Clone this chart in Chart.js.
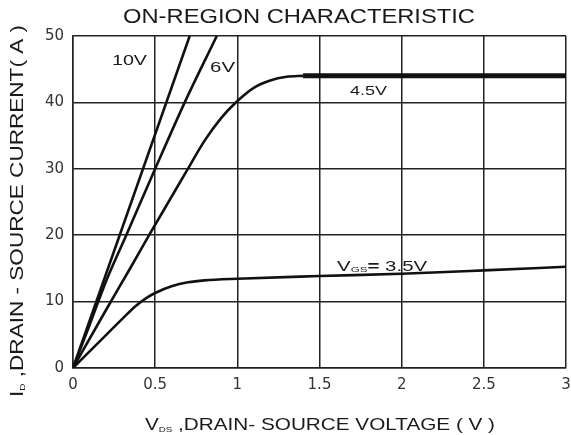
<!DOCTYPE html>
<html>
<head>
<meta charset="utf-8">
<script src="https://cdn.jsdelivr.net/npm/chart.js@4/dist/chart.umd.min.js"></script>
<style>
html,body{margin:0;padding:0;background:#fff;}
#wrap{width:571px;height:435px;position:relative;}
</style>
</head>
<body>
<div id="wrap"><canvas id="c" width="571" height="435"></canvas></div>
<script>
// ---- data ----
const xTickLabels = ['0','0.5','1','1.5','2','2.5','3'];
const yTickLabels = ['0','10','20','30','40','50'];

const vds10 = [0, 0.71];
const id10  = [0, 50];

const vds6 = [0, 0.1, 0.2, 0.324, 0.5, 0.68, 0.875];
const id6  = [0, 6.4, 13, 20, 30, 40, 50];

const vds45 = [0, 0.2, 0.35, 0.47, 0.6, 0.69, 0.8, 0.9, 1.0, 1.1, 1.2, 1.3, 1.4];
const id45  = [0, 8.7, 15.1, 20.3, 25.8, 29.6, 34.2, 37.6, 40.2, 42.2, 43.3, 43.85, 44];

const vds45flat = [1.4, 3.0];
const id45flat  = [44, 44];

const vds35 = [0, 0.17, 0.3, 0.38, 0.45, 0.5, 0.6, 0.7, 0.8, 1.0, 1.5, 2.0, 2.5, 3.0];
const id35  = [0, 4.2, 7.4, 9.3, 10.6, 11.3, 12.3, 12.9, 13.2, 13.45, 13.85, 14.2, 14.7, 15.25];

const curveLabels = ['10V', '6V', '4.5V', 'VGS= 3.5V'];
const labelVds = [0.237, 0.834, 1.686, 1.607];
const labelId  = [45.6, 44.6, 41.1, 14.6];

const titleText = 'ON-REGION CHARACTERISTIC';
const xTitle = ['V', 'DS', ' ,DRAIN- SOURCE VOLTAGE ( V )'];
const yTitle = ['I', 'D', ' ,DRAIN - SOURCE CURRENT( A )'];

function pts(xs, ys){ return xs.map((x,i)=>({x:x, y:ys[i]})); }

const FONT = '"Liberation Sans", Arial, sans-serif';

function drawFit(ctx, pieces, x, y, targetW){
  let total = 0;
  pieces.forEach(p=>{
    ctx.font = (p.bold?'bold ':'') + p.size + 'px ' + FONT;
    p.w = ctx.measureText(p.t).width;
    total += p.w;
  });
  const sx = targetW / total;
  ctx.save();
  ctx.translate(x, y);
  ctx.scale(sx, 1);
  let cx = 0;
  pieces.forEach(p=>{
    ctx.font = (p.bold?'bold ':'') + p.size + 'px ' + FONT;
    ctx.fillText(p.t, cx, p.dy || 0);
    cx += p.w;
  });
  ctx.restore();
}

const textPlugin = {
  id: 'texts',
  afterDraw(chart){
    const ctx = chart.ctx;
    const xs = chart.scales.x, ys = chart.scales.y;
    ctx.save();
    ctx.fillStyle = '#1a1a1a';
    ctx.textBaseline = 'alphabetic';
    ctx.textAlign = 'left';
    drawFit(ctx, [{t:titleText, size:21}], 123, 23, 352);
    drawFit(ctx, [{t:xTitle[0], size:17}, {t:xTitle[1], size:8, dy:2}, {t:xTitle[2], size:17}], 145, 430, 350);
    ctx.save();
    ctx.translate(23, 397);
    ctx.rotate(-Math.PI/2);
    drawFit(ctx, [{t:yTitle[0], size:18}, {t:yTitle[1], size:8, dy:2}, {t:yTitle[2], size:18}], 0, 0, 372);
    ctx.restore();
    const px = i => xs.getPixelForValue(labelVds[i]);
    const py = i => ys.getPixelForValue(labelId[i]);
    drawFit(ctx, [{t:curveLabels[0], size:14}], px(0), py(0), 35);
    drawFit(ctx, [{t:curveLabels[1], size:14}], px(1), py(1), 25);
    drawFit(ctx, [{t:curveLabels[2], size:13}], px(2), py(2), 37);
    const lab = curveLabels[3];
    drawFit(ctx, [{t:lab.slice(0,1), size:14}, {t:lab.slice(1,3), size:8, dy:1}, {t:lab.slice(3,4), size:14, bold:true}, {t:lab.slice(4), size:14}], px(3), py(3), 90);
    ctx.restore();
  }
};

const lineDs = (xs, ys, w) => ({
  data: pts(xs, ys),
  showLine: true,
  borderColor: '#111',
  backgroundColor: '#111',
  borderWidth: w,
  pointRadius: 0,
  pointHoverRadius: 0,
  cubicInterpolationMode: 'monotone',
  fill: false
});

new Chart(document.getElementById('c'), {
  type: 'scatter',
  data: {
    datasets: [
      lineDs(vds10, id10, 2.6),
      lineDs(vds6, id6, 2.6),
      lineDs(vds45, id45, 2.6),
      lineDs(vds45flat, id45flat, 5),
      lineDs(vds35, id35, 2.6)
    ]
  },
  options: {
    responsive: false,
    animation: false,
    events: [],
    layout: { padding: { top: 36, right: 5, left: 0, bottom: 0 } },
    plugins: { legend: { display: false }, title: { display: false }, tooltip: { enabled: false } },
    scales: {
      x: {
        type: 'linear', min: 0, max: 3,
        afterFit(s){ s.height = 67; s.paddingLeft = 0; s.paddingRight = 0; },
        ticks: {
          stepSize: 0.5, padding: 8, color: '#333',
          font: { family: '"DejaVu Sans", sans-serif', size: 15 },
          maxRotation: 0,
          callback: (v) => { const i = Math.round(v / 0.5); return xTickLabels[i]; }
        },
        grid: { color: '#222', lineWidth: 1.5, drawTicks: false },
        border: { display: true, color: '#222', width: 1.5 }
      },
      y: {
        type: 'linear', min: 0, max: 50,
        afterFit(s){ s.width = 73; s.paddingTop = 0; s.paddingBottom = 0; },
        ticks: {
          stepSize: 10, padding: 9, color: '#333',
          font: { family: '"DejaVu Sans", sans-serif', size: 15 },
          callback: (v) => { const i = Math.round(v / 10); return yTickLabels[i]; }
        },
        grid: { color: '#222', lineWidth: 1.5, drawTicks: false },
        border: { display: true, color: '#222', width: 1.5 }
      }
    }
  },
  plugins: [textPlugin]
});
</script>
</body>
</html>
